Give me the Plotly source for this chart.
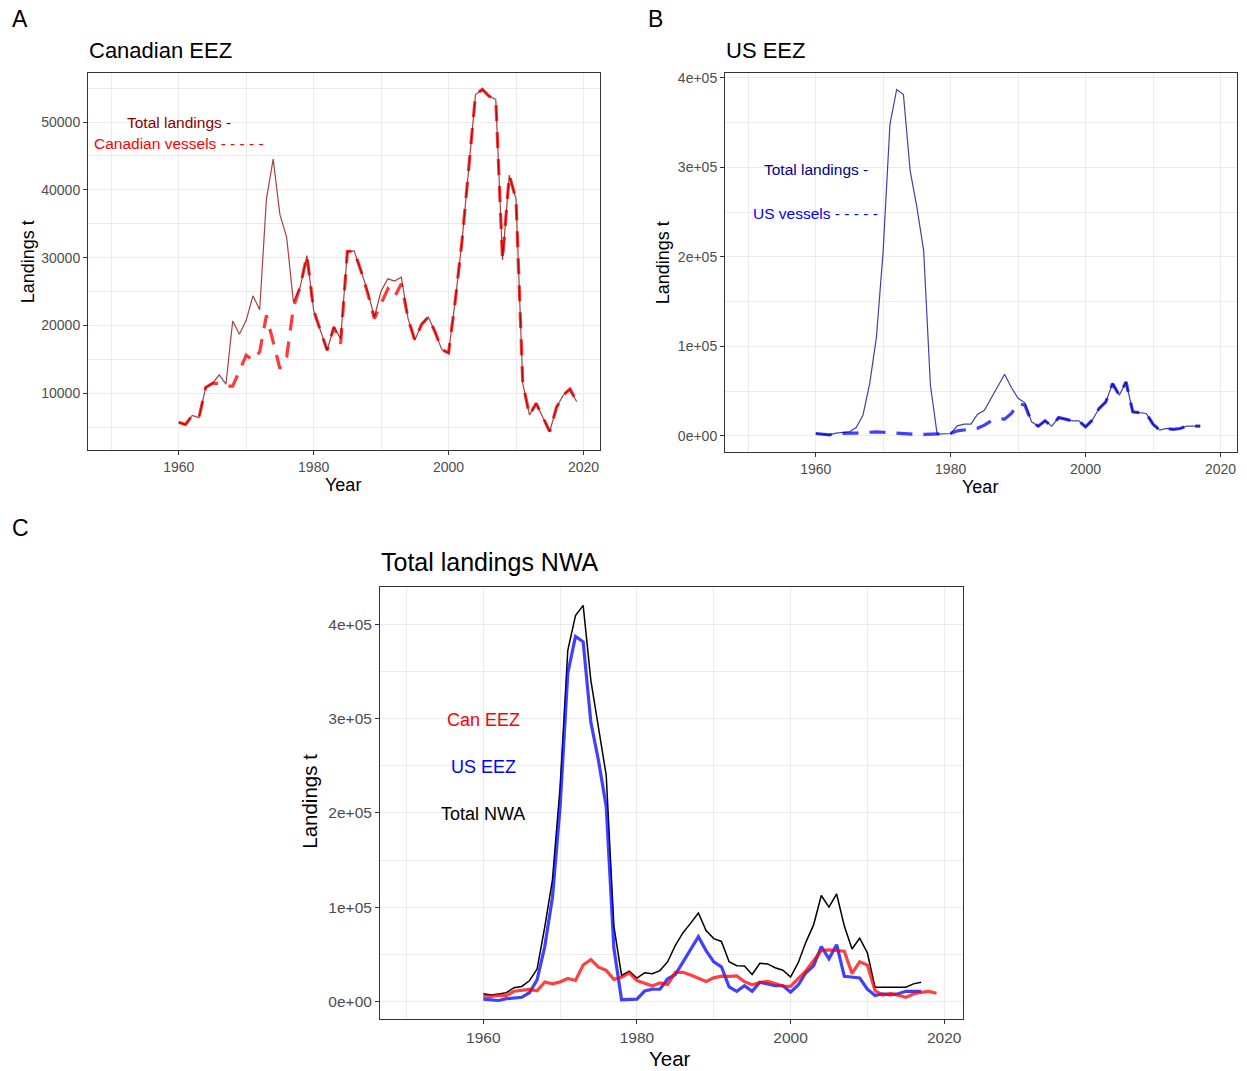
import plotly.graph_objects as go

W, H = 1247, 1071

# ---------------- data ----------------
years_can = list(range(1960, 2020))
can_total = [5740, 5400, 6770, 6430, 10880, 11470, 12740, 11370, 20670, 18710,
             20770, 24390, 22340, 38640, 44520, 36340, 33010, 23460, 25670, 30320,
             22240, 19300, 16360, 19790, 18080, 30910, 31000, 28110, 25080, 21260,
             25080, 26890, 26550, 27140, 21020, 17830, 20180, 21260, 19060, 16460,
             15970, 23710, 32520, 43290, 54060, 54800, 53820, 53330, 29680, 42170,
             38640, 11470, 6820, 8530, 6570, 4370, 7940, 9750, 10640, 8780]
can_vessels = [5740, 5400, 6770, 6430, 10880, 11470, 11470, 11080, 11080, 13430,
               15630, 14900, 16120, 21500, 17500, 13670, 15390, 22730, 25670, 30320,
               22240, 19300, 16360, 19790, 17340, 30910, 31000, 28110, 24790, 21020,
               23220, 25420, 24200, 26160, 21020, 17830, 20180, 21260, 19060, 16460,
               15970, 23710, 32520, 43290, 54060, 54800, 53820, 53330, 29680, 42170,
               38640, 11470, 6820, 8530, 6570, 4370, 7940, 9750, 10640, 8780]

years_us = list(range(1960, 2018))
us_total = [2600, 1500, 1100, 3000, 3700, 4500, 9300, 23000, 58300, 110300,
            206900, 348000, 387000, 381400, 296000, 255200, 206900, 56500, 1900, 1900,
            2600, 11100, 13000, 13000, 24100, 28600, 42000, 55000, 68700, 54000,
            42000, 36800, 15600, 10800, 16700, 10800, 20400, 18600, 16700, 16700,
            10000, 17500, 30500, 37900, 58300, 45300, 60200, 26700, 26000, 24900,
            13000, 6300, 8200, 7100, 8200, 10800, 10800, 10800]
us_vessels = [2600, 1500, 1100, 2500, 3000, 3000, 3000, 3500, 4000, 4500,
              4000, 3500, 3300, 2500, 1500, 1500, 1500, 1800, 1900, 1900,
              2600, 5600, 6300, 7100, 8500, 11900, 16700, 19300, 18600, 24900,
              36000, 34200, 15600, 10800, 16700, 10800, 20400, 18600, 16700, 16700,
              10000, 17500, 30500, 37900, 58300, 45300, 60200, 26700, 26000, 24900,
              13000, 6300, 8200, 7100, 8200, 10800, 10800, 10800]
total_nwa = [8300, 6900, 7900, 9400, 14600, 16000, 22000, 34400, 79000, 129000,
             227700, 372400, 409300, 420000, 340500, 291500, 239900, 80000, 27600, 32200,
             24800, 30400, 29400, 32800, 42200, 59500, 73000, 83100, 93800, 75300,
             66700, 63700, 42200, 37900, 37700, 28600, 40600, 39900, 35800, 33200,
             26000, 41200, 63000, 81200, 112400, 100100, 114000, 80000, 55700, 67100,
             51600, 15000, 15000, 15000, 14800, 15200, 18700, 20500]

x_ticks = [1960, 1980, 2000, 2020]
x_minor = [1950, 1970, 1990, 2010]
ya_ticks = [10000, 20000, 30000, 40000, 50000]
ya_labels = ["10000", "20000", "30000", "40000", "50000"]
ya_minor = [5000, 15000, 25000, 35000, 45000, 55000]
yb_ticks = [0, 100000, 200000, 300000, 400000]
yb_labels = ["0e+00", "1e+05", "2e+05", "3e+05", "4e+05"]
yb_minor = [50000, 150000, 250000, 350000]

FONT = "Liberation Sans, Arial, sans-serif"
GRID = "#EBEBEB"
BORDER = "#333333"
TICKC = "#4D4D4D"
DASH = "16px,11px"


def px_x(p):
    return p / W


def px_y(p):
    return 1 - p / H


fig = go.Figure()

# Panel A
fig.add_trace(go.Scatter(x=years_can, y=can_vessels, mode="lines", xaxis="x", yaxis="y",
                         line=dict(color="rgba(255,0,0,0.78)", width=3.2, dash=DASH), showlegend=False))
fig.add_trace(go.Scatter(x=years_can, y=can_total, mode="lines", xaxis="x", yaxis="y",
                         line=dict(color="rgba(139,0,0,0.75)", width=1.2), showlegend=False))
# Panel B
fig.add_trace(go.Scatter(x=years_us, y=us_vessels, mode="lines", xaxis="x2", yaxis="y2",
                         line=dict(color="rgba(0,0,255,0.75)", width=3.2, dash=DASH), showlegend=False))
fig.add_trace(go.Scatter(x=years_us, y=us_total, mode="lines", xaxis="x2", yaxis="y2",
                         line=dict(color="rgba(0,0,139,0.75)", width=1.2), showlegend=False))
# Panel C
fig.add_trace(go.Scatter(x=years_us, y=total_nwa, mode="lines", xaxis="x3", yaxis="y3",
                         line=dict(color="black", width=1.5), showlegend=False))
fig.add_trace(go.Scatter(x=years_us, y=us_total, mode="lines", xaxis="x3", yaxis="y3",
                         line=dict(color="rgba(0,0,255,0.75)", width=3.2), showlegend=False))
fig.add_trace(go.Scatter(x=years_can, y=can_total, mode="lines", xaxis="x3", yaxis="y3",
                         line=dict(color="rgba(255,0,0,0.75)", width=3.2), showlegend=False))


def xax(dom, anchor, fs):
    return dict(domain=dom, anchor=anchor, range=[1946.55, 2022.45], tickmode="array",
                tickvals=x_ticks, ticks="outside", ticklen=4, tickcolor=BORDER, tickwidth=1,
                showgrid=True, gridcolor=GRID, gridwidth=1.3, zeroline=False,
                minor=dict(tickvals=x_minor, showgrid=True, gridcolor=GRID, gridwidth=0.8),
                showline=True, linecolor=BORDER, linewidth=1, mirror=True,
                tickfont=dict(family=FONT, size=fs, color=TICKC))


def yax(dom, anchor, rng, tv, tt, mn, fs):
    return dict(domain=dom, anchor=anchor, range=rng, tickmode="array", tickvals=tv, ticktext=tt,
                ticks="outside", ticklen=4, tickcolor=BORDER, tickwidth=1,
                showgrid=True, gridcolor=GRID, gridwidth=1.3, zeroline=False,
                minor=dict(tickvals=mn, showgrid=True, gridcolor=GRID, gridwidth=0.8),
                showline=True, linecolor=BORDER, linewidth=1, mirror=True,
                tickfont=dict(family=FONT, size=fs, color=TICKC))


fig.update_layout(
    width=W, height=H, margin=dict(l=0, r=0, t=0, b=0),
    paper_bgcolor="white", plot_bgcolor="white", showlegend=False,
    font=dict(family=FONT),
    xaxis=xax([px_x(88), px_x(600)], "y", 14),
    yaxis=yax([px_y(448), px_y(70)], "x", [1700, 57250], ya_ticks, ya_labels, ya_minor, 14),
    xaxis2=xax([px_x(725), px_x(1237)], "y2", 14),
    yaxis2=yax([px_y(450), px_y(70)], "x2", [-17800, 405600], yb_ticks, yb_labels, yb_minor, 14),
    xaxis3=xax([px_x(380), px_x(963)], "y3", 15.5),
    yaxis3=yax([px_y(1019), px_y(586)], "x3", [-18700, 439100], yb_ticks, yb_labels, yb_minor, 15.5),
)

ann = []


def pa(text, x, y, size, color="black", xanchor="center", angle=0):
    ann.append(dict(text=text, x=px_x(x), y=px_y(y), xref="paper", yref="paper",
                    xanchor=xanchor, yanchor="middle", showarrow=False, textangle=angle,
                    font=dict(family=FONT, size=size, color=color)))


def da(text, x, y, xr, yr, size, color):
    ann.append(dict(text=text, x=x, y=y, xref=xr, yref=yr, xanchor="center", yanchor="middle",
                    showarrow=False, font=dict(family=FONT, size=size, color=color)))


# panel letters
pa("A", 20, 16, 23)
pa("B", 655, 16, 23)
pa("C", 20, 526, 23)
# titles
pa("Canadian EEZ", 87, 48, 22, xanchor="left")
pa("US EEZ", 724, 48, 22, xanchor="left")
pa("Total landings NWA", 379, 561, 25, xanchor="left")
# axis titles
pa("Year", 343, 483, 18)
pa("Year", 980, 485, 18)
pa("Year", 670, 1058, 20.5)
pa("Landings t", 28, 260, 18, angle=-90)
pa("Landings t", 663, 261, 18, angle=-90)
pa("Landings t", 310, 801, 20.5, angle=-90)
# in-panel labels
da("Total landings -", 1960, 49900, "x", "y", 15.5, "#8B0000")
da("Canadian vessels - - - - -", 1960, 46800, "x", "y", 15.5, "#FF0000")
da("Total landings -", 1960, 298000, "x2", "y2", 15.5, "#00008B")
da("US vessels - - - - -", 1960, 248000, "x2", "y2", 15.5, "#0000FF")
da("Can EEZ", 1960, 298500, "x3", "y3", 18, "#FF0000")
da("US EEZ", 1960, 249000, "x3", "y3", 18, "#0000FF")
da("Total NWA", 1960, 199000, "x3", "y3", 18, "black")

fig.update_layout(annotations=ann)

fig.write_html("out.html")
